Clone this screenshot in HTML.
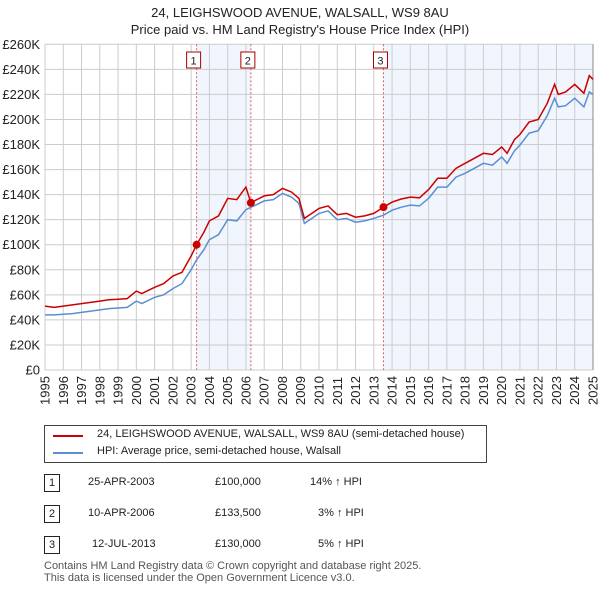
<!DOCTYPE html>
<html><head><meta charset="utf-8"><style>
body{margin:0;background:#fff;font-family:"Liberation Sans","DejaVu Sans",sans-serif;color:#222}
#wrap{position:relative;width:600px;height:590px;overflow:hidden}
.t{position:absolute;font-size:12px}
</style></head><body>
<div id="wrap">
<svg id="chart" width="600" height="420" style="position:absolute;left:0;top:0">
<text x="300" y="17" text-anchor="middle" font-size="13" fill="#222">24, LEIGHSWOOD AVENUE, WALSALL, WS9 8AU</text>
<text x="300" y="34" text-anchor="middle" font-size="13" fill="#222">Price paid vs. HM Land Registry's House Price Index (HPI)</text>
<g id="g"></g>
</svg>
<div style="position:absolute;left:44px;top:425px;width:441px;height:36px;border:1px solid #444">
 <div style="position:absolute;left:8px;top:9px;width:30px;height:2px;background:#cc0000"></div>
 <div class="t" style="left:52px;top:2px;font-size:11px">24, LEIGHSWOOD AVENUE, WALSALL, WS9 8AU (semi-detached house)</div>
 <div style="position:absolute;left:8px;top:26px;width:30px;height:2px;background:#5b8fd1"></div>
 <div class="t" style="left:52px;top:19px;font-size:11px">HPI: Average price, semi-detached house, Walsall</div>
</div>
<div id="tbl"></div>
<div class="t" style="left:44px;top:560px;font-size:11px;color:#555;line-height:12px">Contains HM Land Registry data © Crown copyright and database right 2025.<br>This data is licensed under the Open Government Licence v3.0.</div>
</div>
<script>
const dates=[1995,1995.5,1996,1996.5,1997,1997.5,1998,1998.5,1999,1999.5,2000,2000.3,2001,2001.5,2002,2002.5,2003,2003.3,2003.7,2004,2004.5,2005,2005.5,2006,2006.27,2006.6,2007,2007.5,2008,2008.5,2008.9,2009.2,2009.7,2010,2010.5,2011,2011.5,2012,2012.5,2013,2013.53,2014,2014.5,2015,2015.5,2016,2016.5,2017,2017.5,2018,2018.5,2019,2019.5,2020,2020.3,2020.7,2021,2021.5,2022,2022.5,2022.9,2023.1,2023.5,2024,2024.5,2024.8,2025];
const hpi=[44,44,44.5,45,46,47,48,49,49.5,50,55,53,58,60,65,69,80,88,96,104,108,120,119,128,130,132,135,136,141,138,133,117,122,125,127,120,121,118,119,121,123.6,127.6,130,131.6,131,137,146,146,154,157,161,165,163.5,170,165,175,179.5,189,191,203,217,210,211,217,210,222,220];
const red=[51,50,51,52,53,54,55,56,56.5,57,63,61,66,69,75,78,91,100,110,119,123,137,136,146,133.5,136,139,140,145,142,137,121,126,129,131,124,125,122,123,125,130,134,136.5,138,137.5,144,153,153,161,165,169,173,172,178,173,184,188,198,200,213,228,220,222,228,221,235,232];
const yTicks=[0,20,40,60,80,100,120,140,160,180,200,220,240,260];
const yearTicks=[];for(let y=1995;y<=2025;y++)yearTicks.push(y);
const sales=[{n:"1",d:2003.3,v:100,date:"25-APR-2003",price:"£100,000",pct:"14% ↑ HPI"},{n:"2",d:2006.27,v:133.5,date:"10-APR-2006",price:"£133,500",pct:"3% ↑ HPI"},{n:"3",d:2013.53,v:130,date:"12-JUL-2013",price:"£130,000",pct:"5% ↑ HPI"}];
const L=45,R=593,T=44.3,B=370;
const X=d=>L+(d-1995)/30*(R-L), Y=v=>B-v/260*(B-T);
const g=document.getElementById('g'),NS='http://www.w3.org/2000/svg';
function mk(t,a,p){const e=document.createElementNS(NS,t);for(const k in a)e.setAttribute(k,a[k]);(p||g).appendChild(e);return e;}
let e;
e=mk('rect',{x:X(sales[0].d),y:T,width:X(sales[1].d)-X(sales[0].d),height:B-T,fill:'#eef3fc',opacity:0.8});

e=mk('rect',{x:X(sales[2].d),y:T,width:R-X(sales[2].d),height:B-T,fill:'#eef3fc',opacity:0.8});

yTicks.forEach(v=>{e=mk('line',{x1:L,x2:R,y1:Y(v),y2:Y(v),stroke:'#cccccc'});

e=mk('text',{x:40,y:Y(v)+4.5,'text-anchor':'end','font-size':13,fill:'#222'});e.textContent=v===0?'£0':'£'+v+'K';
});
yearTicks.forEach(y=>{e=mk('line',{x1:X(y),x2:X(y),y1:T,y2:B,stroke:'#cccccc'});

e=mk('text',{x:0,y:0,transform:`translate(${X(y)+4.5},${B+35}) rotate(-90)`,'font-size':13,fill:'#222'});e.textContent=y;
});
mk('line',{x1:R,x2:R,y1:T,y2:B,stroke:'#888'});
sales.forEach(s=>{e=mk('line',{x1:X(s.d),x2:X(s.d),y1:T,y2:B,stroke:'#e06060','stroke-dasharray':'2,2'});

e=mk('rect',{x:X(s.d)-10,y:52,width:14,height:16,fill:'#fff',stroke:'#aa0000'});

e=mk('text',{x:X(s.d)-3,y:64.5,'text-anchor':'middle','font-size':11,fill:'#222'});e.textContent=s.n;
});
const pts=(arr)=>dates.map((d,i)=>X(d).toFixed(1)+','+Y(arr[i]).toFixed(1)).join(' ');
e=mk('polyline',{points:pts(hpi),fill:'none',stroke:'#5b8fd1','stroke-width':1.5});

e=mk('polyline',{points:pts(red),fill:'none',stroke:'#cc0000','stroke-width':1.5});

sales.forEach(s=>{e=mk('circle',{cx:X(s.d),cy:Y(s.v),r:4,fill:'#cc0000'});
});
const tbl=document.getElementById('tbl');
sales.forEach((s,i)=>{const top=474+i*31;
const row=document.createElement('div');row.style.cssText=`position:absolute;left:0;top:${top}px;width:600px;height:20px`;

row.innerHTML=`<div style="position:absolute;left:44px;top:0;width:14px;height:16px;border:1px solid #222;font-size:11px;text-align:center;line-height:16px">${s.n}</div>
<div class="t" style="left:${i==2?92:88}px;top:2px;font-size:11px">${s.date}</div>
<div class="t" style="left:215px;top:2px;font-size:11px">${s.price}</div>
<div class="t" style="left:${i==0?310:318}px;top:2px;font-size:11px">${s.pct}</div>`;
tbl.appendChild(row);});
</script>
</body></html>
